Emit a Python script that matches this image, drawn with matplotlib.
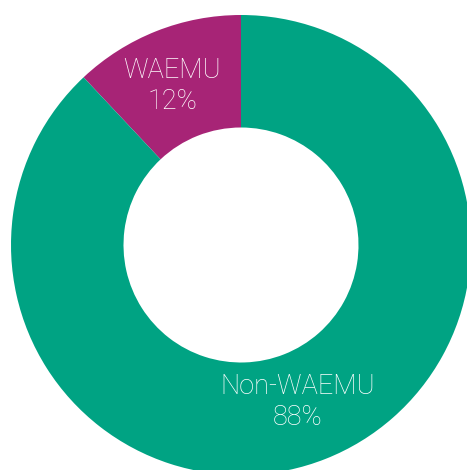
import matplotlib.pyplot as plt

# shares of trade, percent
groups = ['WAEMU', 'Non-WAEMU']
shares = [12, 88]
colors = ['#a72476', '#00a383']

fig = plt.figure(figsize=(4.67, 4.70), dpi=100)
ax = fig.add_axes([0, 0, 1, 1])

labels = [g + '\n' + str(s) + '%' for g, s in zip(groups, shares)]
wedges, texts = ax.pie(shares, colors=colors, startangle=90, counterclock=True,
                       radius=230, center=(241, 225), labels=labels,
                       labeldistance=0.74, wedgeprops=dict(width=112.5, linewidth=0),
                       textprops=dict(color='white', fontsize=19.5, family='Roboto',
                                      fontweight='light', ha='center', va='center',
                                      linespacing=1.2))

# nudge labels a little to the left, as in the original
for t in texts:
    x, y = t.get_position()
    t.set_position((x - 6, y + 1))

ax.set_xlim(0, 467)
ax.set_ylim(0, 470)
ax.set_aspect('equal')
ax.axis('off')

fig.savefig('out.png', dpi=100)
